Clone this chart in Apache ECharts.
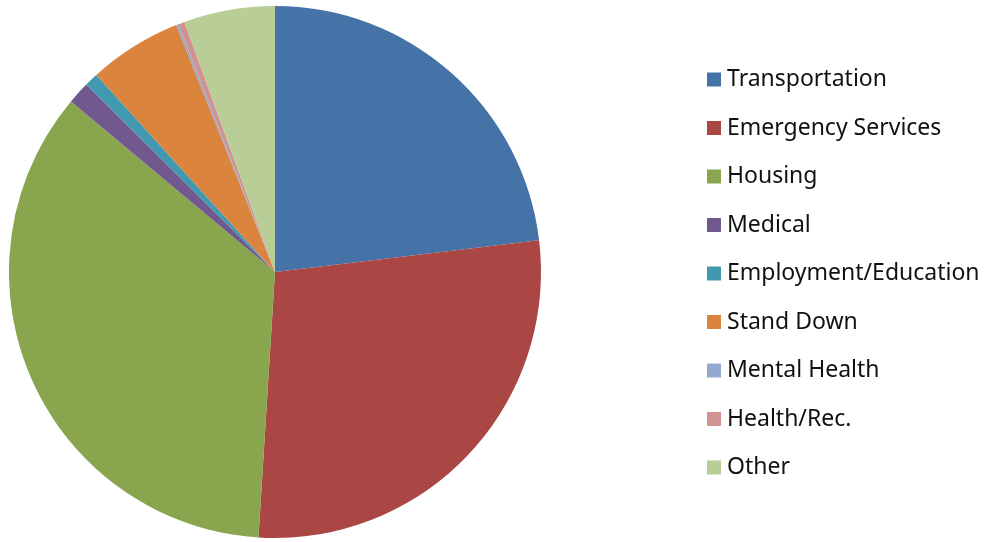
<!DOCTYPE html>
<html>
<head>
<meta charset="utf-8">
<script src="https://cdn.jsdelivr.net/npm/echarts@6/dist/echarts.min.js"></script>
<style>
  html, body { margin: 0; padding: 0; background: #fff; }
  #chart { width: 989px; height: 542px; }
</style>
</head>
<body>
<div id="chart"></div>
<script>
var categories = ['Transportation', 'Emergency Services', 'Housing', 'Medical',
    'Employment/Education', 'Stand Down', 'Mental Health', 'Health/Rec.', 'Other'];
var shares = [23.1, 27.9, 35.1, 1.36, 0.83, 5.67, 0.14, 0.39, 5.53];
var colors = ['#4572A7', '#AA4643', '#89A54E', '#71588F', '#4198AF',
    '#DB843D', '#93A9CF', '#D19392', '#B9CD96'];

var myChart = echarts.init(document.getElementById('chart'));
myChart.setOption({
    animation: false,
    color: colors,
    legend: {
        orient: 'vertical',
        left: 702,
        top: 63,
        itemWidth: 14,
        itemHeight: 14,
        itemGap: 25.5,
        icon: 'rect',
        textStyle: {
            fontFamily: 'Noto Sans',
            fontSize: 23,
            color: '#111',
            padding: [0, 0, 0, 1]
        },
        data: categories
    },
    series: [
        {
            type: 'pie',
            center: [275, 272],
            radius: 266,
            startAngle: 90,
            clockwise: true,
            label: { show: false },
            labelLine: { show: false },
            emphasis: { disabled: true },
            data: categories.map(function (name, i) {
                return { name: name, value: shares[i] };
            })
        }
    ]
});
</script>
</body>
</html>
